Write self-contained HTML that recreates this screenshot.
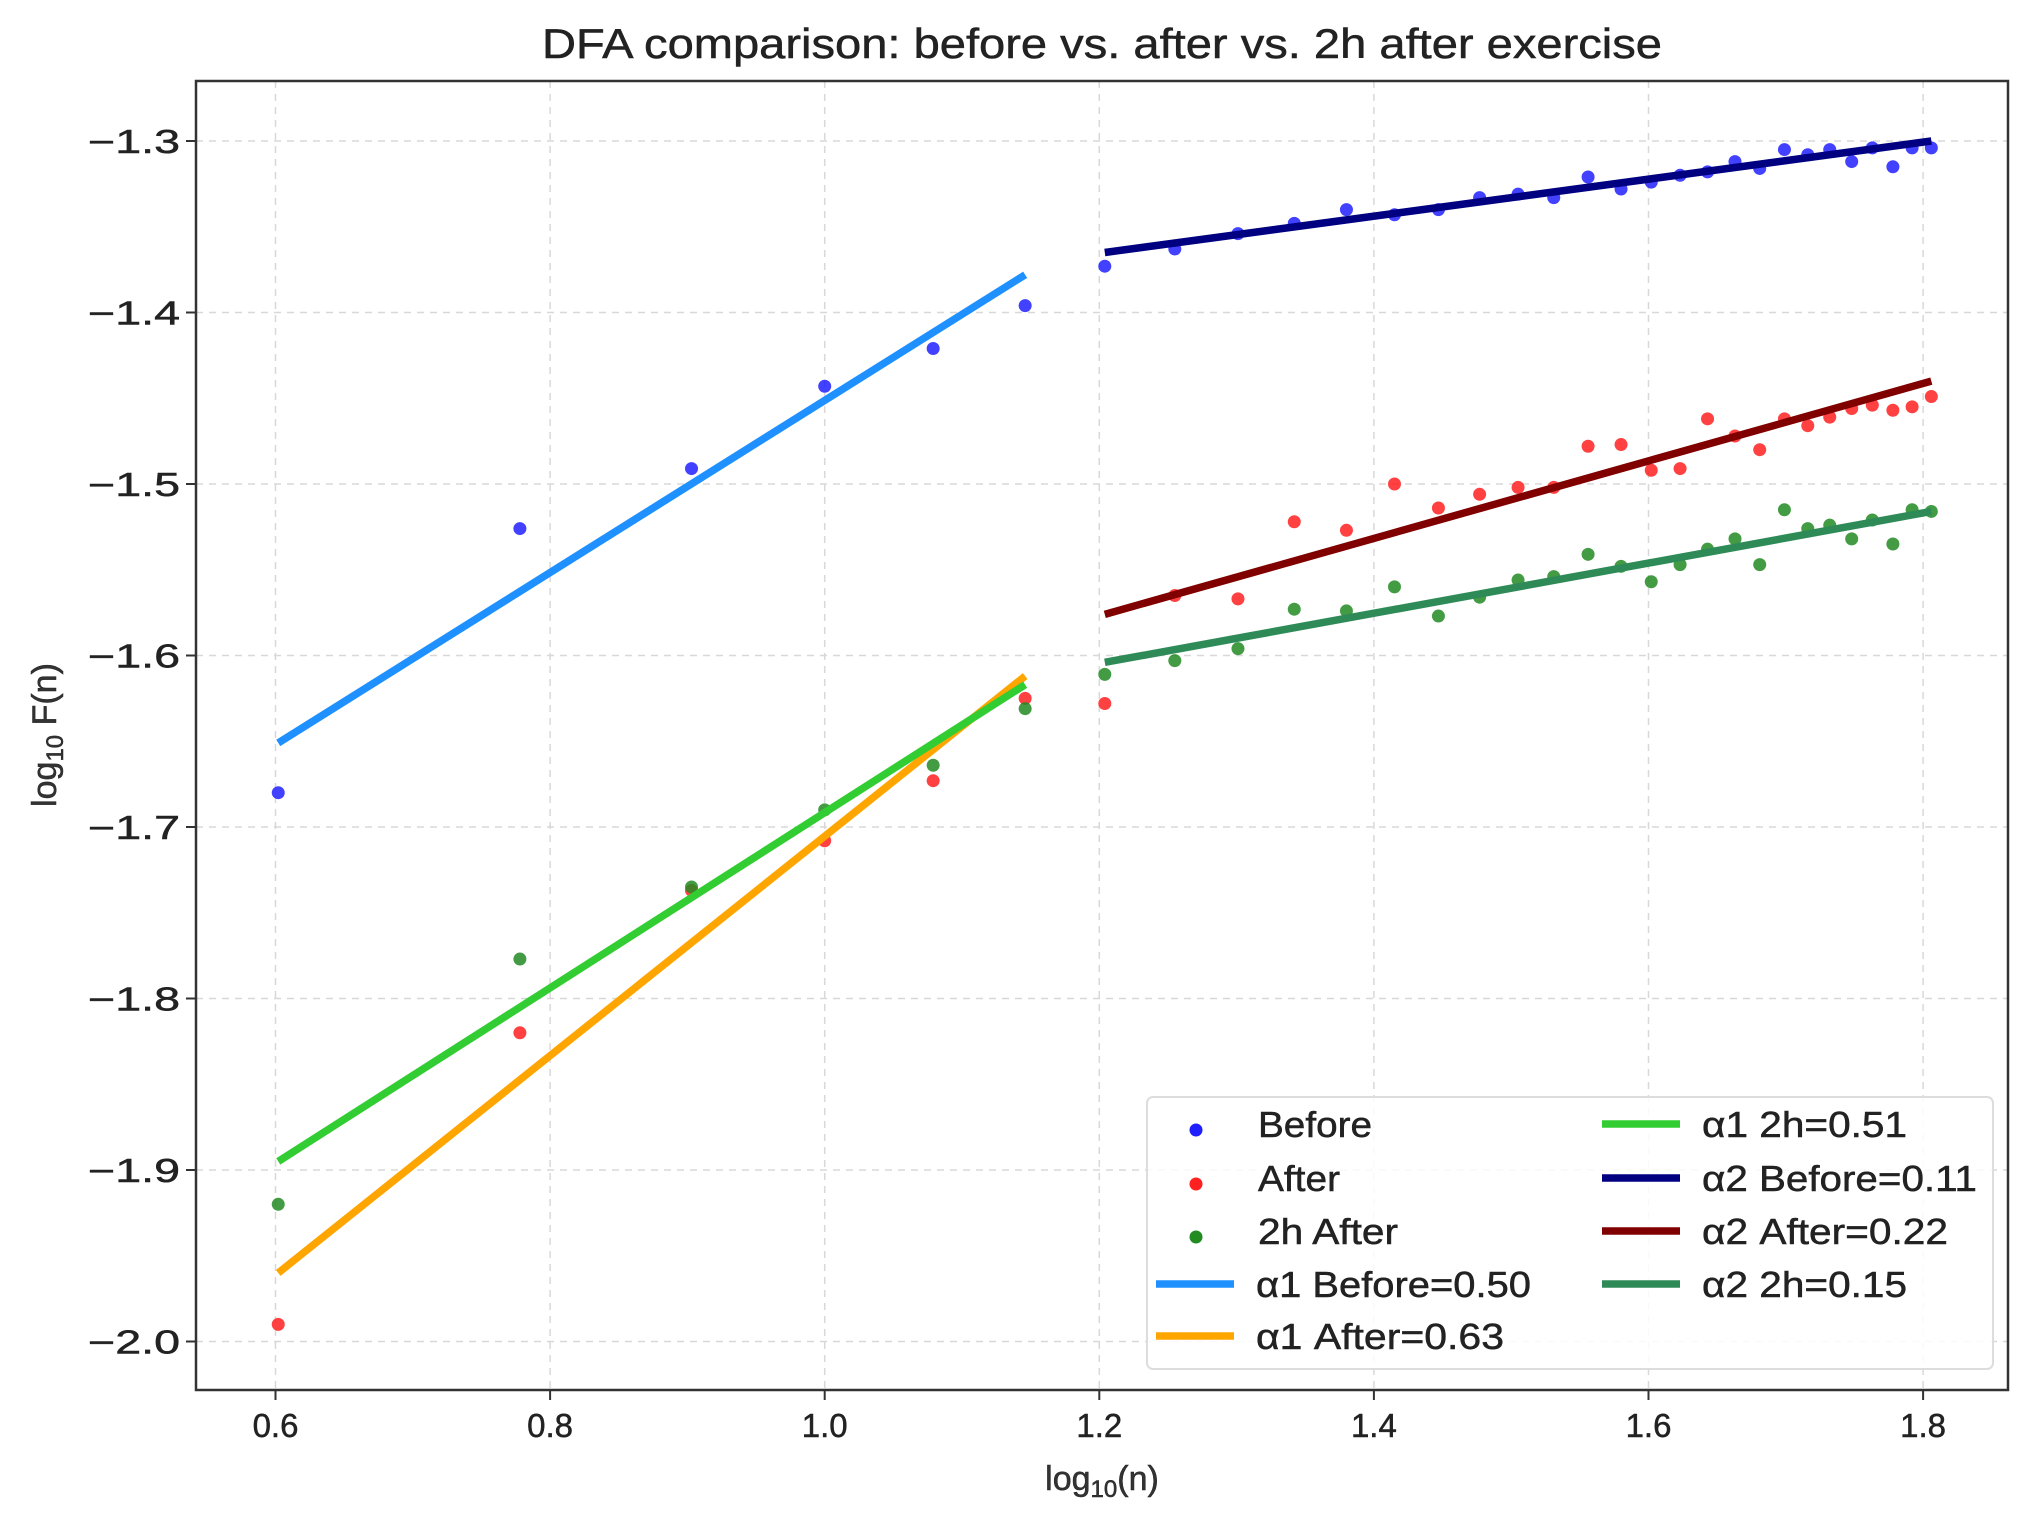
<!DOCTYPE html>
<html><head><meta charset="utf-8"><style>
html,body{margin:0;padding:0;background:#fff;}
svg{display:block;font-family:"Liberation Sans","DejaVu Sans",sans-serif;}
text{stroke:#222;stroke-width:0.5;}
</style></head><body>
<svg id="chart" width="2029" height="1527" viewBox="0 0 2029 1527" xmlns="http://www.w3.org/2000/svg">
<rect x="0" y="0" width="2029" height="1527" fill="#fff"/>
<text x="1102" y="58" font-size="42" text-anchor="middle" fill="#222" textLength="1120" lengthAdjust="spacingAndGlyphs">DFA comparison: before vs. after vs. 2h after exercise</text>
<g id="grid"></g><g id="marks"></g>
<rect x="196" y="81" width="1812" height="1309" fill="none" stroke="#333" stroke-width="2.5"/>
<g id="axes"></g>
<text x="1102" y="1490" font-size="34" text-anchor="middle" fill="#333">log<tspan font-size="24" dy="7">10</tspan><tspan dy="-7">(n)</tspan></text>
<text transform="translate(56,735) rotate(-90)" font-size="34" text-anchor="middle" fill="#333">log<tspan font-size="24" dy="7">10</tspan><tspan dy="-7"> F(n)</tspan></text>
<g id="legend"></g>
</svg>
<script>
const xTicks=[0.6,0.8,1.0,1.2,1.4,1.6,1.8];
const yTicks=[-1.3,-1.4,-1.5,-1.6,-1.7,-1.8,-1.9,-2.0];
const xScale1=[0.602,0.778,0.903,1.0,1.079,1.146];
const xScale2=[1.204,1.255,1.301,1.342,1.380,1.415,1.447,1.477,1.505,1.531,1.556,1.580,1.602,1.623,1.643,1.663,1.681,1.699,1.716,1.732,1.748,1.763,1.778,1.792,1.806];
const before1=[-1.68,-1.526,-1.491,-1.443,-1.421,-1.396];
const before2=[-1.373,-1.363,-1.354,-1.348,-1.340,-1.343,-1.340,-1.333,-1.331,-1.333,-1.321,-1.328,-1.324,-1.320,-1.318,-1.312,-1.316,-1.305,-1.308,-1.305,-1.312,-1.304,-1.315,-1.304,-1.304];
const after1=[-1.99,-1.82,-1.737,-1.708,-1.673,-1.625];
const after2=[-1.628,-1.565,-1.567,-1.522,-1.527,-1.500,-1.514,-1.506,-1.502,-1.502,-1.478,-1.477,-1.492,-1.491,-1.462,-1.472,-1.480,-1.462,-1.466,-1.461,-1.456,-1.454,-1.457,-1.455,-1.449];
const h2_1=[-1.92,-1.777,-1.735,-1.690,-1.664,-1.631];
const h2_2=[-1.611,-1.603,-1.596,-1.573,-1.574,-1.560,-1.577,-1.566,-1.556,-1.554,-1.541,-1.548,-1.557,-1.547,-1.538,-1.532,-1.547,-1.515,-1.526,-1.524,-1.532,-1.521,-1.535,-1.515,-1.516];
const fitA1Before=[-1.651,-1.378];
const fitA1After=[-1.960,-1.612];
const fitA1H2=[-1.895,-1.617];
const fitA2Before=[-1.365,-1.300];
const fitA2After=[-1.576,-1.440];
const fitA2H2=[-1.604,-1.516];

const NS='http://www.w3.org/2000/svg';
function X(v){return 275.5+(v-0.6)*1373;}
function Y(v){return 141+(-1.3-v)*1715;}
function mk(tag,attrs,parent){const e=document.createElementNS(NS,tag);for(const k in attrs)e.setAttribute(k,attrs[k]);parent.appendChild(e);return e;}
const grid=document.getElementById('grid'),axes=document.getElementById('axes'),marks=document.getElementById('marks'),leg=document.getElementById('legend');
xTicks.forEach(t=>{
  let g=mk('line',{x1:X(t),x2:X(t),y1:81,y2:1390,stroke:'#d8d8d8','stroke-width':1.5,'stroke-dasharray':'7,6'},grid);
  
  
  let tk=mk('line',{x1:X(t),x2:X(t),y1:1390,y2:1400,stroke:'#333','stroke-width':2},axes);
  
  
  let l=mk('text',{x:X(t),y:1437,'font-size':33,'text-anchor':'middle',fill:'#222'},axes);
  l.textContent=t.toFixed(1);
  
  
});
yTicks.forEach(t=>{
  let g=mk('line',{x1:196,x2:2008,y1:Y(t),y2:Y(t),stroke:'#d8d8d8','stroke-width':1.5,'stroke-dasharray':'7,6'},grid);
  
  
  let tk=mk('line',{x1:186,x2:196,y1:Y(t),y2:Y(t),stroke:'#333','stroke-width':2},axes);
  
  
  let l=mk('text',{x:180,y:Y(t)+12,'font-size':33,'text-anchor':'end',fill:'#222',textLength:92,lengthAdjust:'spacingAndGlyphs'},axes);
  l.textContent='\u2212'+Math.abs(t).toFixed(1);
  
  
});
function fit(xs,ys,color,name){
  let l=mk('line',{x1:X(xs[0]),y1:Y(ys[0]),x2:X(xs[xs.length-1]),y2:Y(ys[1]),stroke:color,'stroke-width':7.5},marks);
  
  
}
function pts(xs,ys,color,name){
  xs.forEach((x,i)=>{
    let c=mk('circle',{cx:X(x),cy:Y(ys[i]),r:6.5,fill:color,'fill-opacity':0.85},marks);
    
    
  });
}
const C={b:'#2020ff',a:'#ff2020',g:'#228b22',l1b:'#1e90ff',l1a:'#ffa500',l1g:'#32cd32',l2b:'#000080',l2a:'#800000',l2g:'#2e8b57'};
pts(xScale1,before1,C.b,'before-point');pts(xScale2,before2,C.b,'before-point');
pts(xScale1,after1,C.a,'after-point');pts(xScale2,after2,C.a,'after-point');
pts(xScale1,h2_1,C.g,'2h-after-point');pts(xScale2,h2_2,C.g,'2h-after-point');
fit(xScale1,fitA1Before,C.l1b,'alpha1-before-fit');
fit(xScale1,fitA1After,C.l1a,'alpha1-after-fit');
fit(xScale1,fitA1H2,C.l1g,'alpha1-2h-fit');
fit(xScale2,fitA2Before,C.l2b,'alpha2-before-fit');
fit(xScale2,fitA2After,C.l2a,'alpha2-after-fit');
fit(xScale2,fitA2H2,C.l2g,'alpha2-2h-fit');
let box=mk('rect',{x:1147,y:1097,width:846,height:272,rx:6,fill:'#fff','fill-opacity':0.85,stroke:'#ddd','stroke-width':2},leg);


const rows=[1124,1178,1231,1284,1336];
const items=[
 [0,0,'dot',C.b,'Before',114],[0,1,'dot',C.a,'After',82],[0,2,'dot',C.g,'2h After',140],
 [0,3,'line',C.l1b,'\u03b11 Before=0.50',275],[0,4,'line',C.l1a,'\u03b11 After=0.63',248],
 [1,0,'line',C.l1g,'\u03b11 2h=0.51',205],[1,1,'line',C.l2b,'\u03b12 Before=0.11',275],
 [1,2,'line',C.l2a,'\u03b12 After=0.22',246],[1,3,'line',C.l2g,'\u03b12 2h=0.15',205]];
items.forEach(it=>{
  const x0=it[0]?1602:1156, y=rows[it[1]];
  const g=mk('g',{},leg);
  
  
  if(it[2]==='dot') mk('circle',{cx:x0+40,cy:y+6,r:6.5,fill:it[3]},g);
  else mk('line',{x1:x0,x2:x0+78,y1:y,y2:y,stroke:it[3],'stroke-width':7.5},g);
  const t=mk('text',{x:x0+100+(it[2]==='dot'?2:0),y:y+13,'font-size':36,fill:'#222',textLength:it[5],lengthAdjust:'spacingAndGlyphs'},g);
  t.textContent=it[4];
});
</script>
</body></html>
